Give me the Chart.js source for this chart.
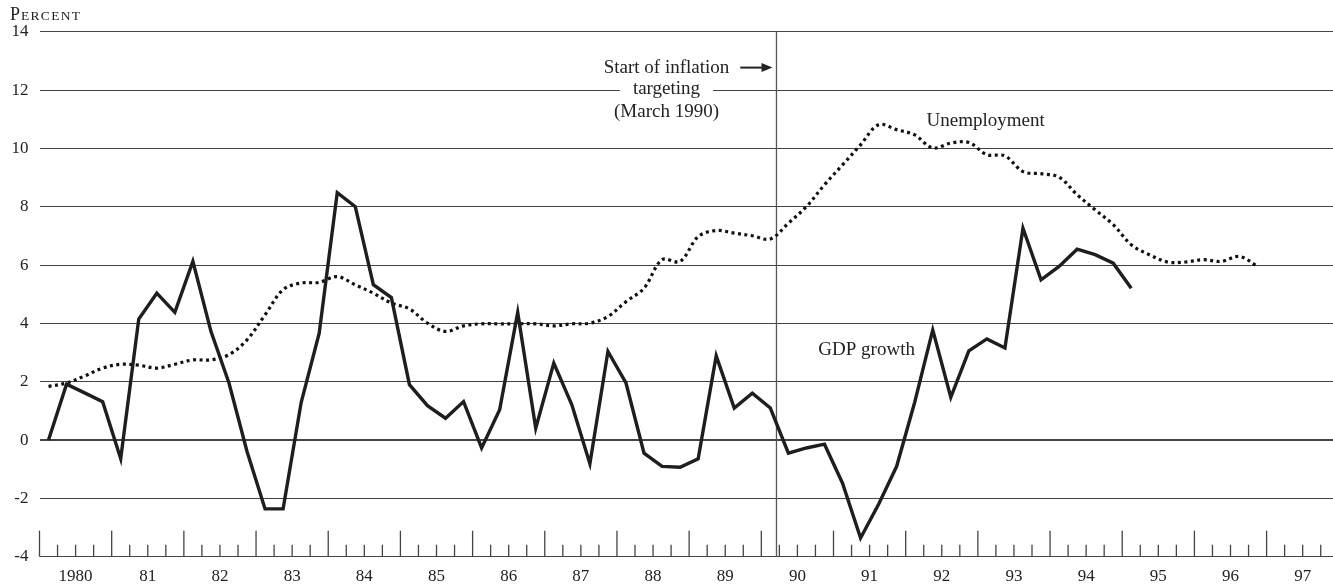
<!DOCTYPE html>
<html lang="en">
<head>
  <meta charset="UTF-8">
  <title>GDP Growth and Unemployment, 1980-97</title>
  <script src="https://cdn.jsdelivr.net/npm/chart.js"></script>
  <style>
    body { margin: 0; background: #fff; }
    #wrap { width: 1333px; height: 585px; }
  </style>
</head>
<body>
  <div id="wrap"><canvas id="growthChart"></canvas></div>

  <script>
    // Quarterly figures in percent, starting with 1980 Q1
    const startYear = 1980;
    const gdpGrowth = [
      0.0, 1.92, 1.62, 1.32,     // 1980
      -0.64, 4.15, 5.04, 4.38,   // 81
      6.13, 3.73, 1.96, -0.39,   // 82
      -2.36, -2.36, 1.29, 3.67,  // 83
      8.49, 8.01, 5.33, 4.89,    // 84
      1.9, 1.18, 0.75, 1.32,     // 85
      -0.27, 1.04, 4.38, 0.41,   // 86
      2.64, 1.21, -0.81, 3.04,   // 87
      1.96, -0.45, -0.9, -0.93,  // 88
      -0.64, 2.89, 1.1, 1.61,    // 89
      1.1, -0.45, -0.27, -0.14,  // 90
      -1.48, -3.36, -2.2, -0.9,  // 91
      1.3, 3.78, 1.47, 3.06,     // 92
      3.47, 3.16, 7.27, 5.5,     // 93
      5.96, 6.55, 6.36, 6.07,    // 94
      5.21                       // 95 Q1
    ];
    const unemployment = [
      1.84, 1.96, 2.2, 2.47,     // 1980
      2.6, 2.57, 2.47, 2.6,      // 81
      2.75, 2.75, 2.93, 3.44,    // 82
      4.3, 5.16, 5.39, 5.41,     // 83
      5.61, 5.33, 5.04, 4.7,     // 84
      4.5, 4.01, 3.73, 3.92,     // 85
      3.99, 3.99, 3.99, 3.99,    // 86
      3.92, 3.99, 4.01, 4.24,    // 87
      4.75, 5.21, 6.19, 6.13,    // 88
      6.98, 7.19, 7.1, 7.01,     // 89
      6.9, 7.44, 8.01, 8.76,     // 90
      9.44, 10.13, 10.82, 10.65, // 91
      10.47, 10.02, 10.19, 10.21,// 92
      9.79, 9.75, 9.21, 9.14,    // 93
      9.02, 8.42, 7.9, 7.39,     // 94
      6.7, 6.36, 6.11, 6.11,     // 95
      6.19, 6.13, 6.3, 5.96      // 96
    ];
    const yearLabels = ['1980', '81', '82', '83', '84', '85', '86', '87', '88',
                        '89', '90', '91', '92', '93', '94', '95', '96', '97'];
    const targetingStart = 1990.21; // March 1990

    const serif = '"Liberation Serif", "DejaVu Serif", serif';
    const ink = '#222';
    const gridColor = '#444';

    // each quarter is plotted at its midpoint
    function quarterPoints(values) {
      return values.map((v, i) => ({ x: startYear + i / 4 + 0.125, y: v }));
    }

    // quarter ticks drawn upward from the bottom axis, longer at year breaks
    const quarterTicks = {
      id: 'quarterTicks',
      beforeDatasetsDraw(chart) {
        const { ctx, chartArea, scales: { x } } = chart;
        ctx.save();
        ctx.strokeStyle = gridColor;
        ctx.lineWidth = 1.3;
        for (let q = 0; q <= yearLabels.length * 4; q++) {
          const px = x.getPixelForValue(startYear + q / 4);
          if (px > chartArea.right) break;
          const len = q % 4 === 0 ? 26 : 12;
          ctx.beginPath();
          ctx.moveTo(px, chartArea.bottom);
          ctx.lineTo(px, chartArea.bottom - len);
          ctx.stroke();
        }
        ctx.restore();
      }
    };

    const annotations = {
      id: 'annotations',
      afterDatasetsDraw(chart) {
        const { ctx, scales: { x, y } } = chart;
        ctx.save();
        ctx.fillStyle = ink;

        // "Percent" in small capitals
        ctx.textAlign = 'left';
        ctx.textBaseline = 'alphabetic';
        ctx.font = '18px ' + serif;
        ctx.fillText('P', 10, 20);
        const pw = ctx.measureText('P').width;
        ctx.font = '13.5px ' + serif;
        ctx.letterSpacing = '1.3px';
        ctx.fillText('ERCENT', 10 + pw + 1, 20);
        ctx.letterSpacing = '0px';

        // inflation targeting note
        ctx.font = '19px ' + serif;
        ctx.textAlign = 'center';
        const lineX = x.getPixelForValue(targetingStart);
        const cx = lineX - 110;
        const y1 = y.getPixelForValue(12.59);
        ctx.fillText('Start of inflation', cx, y1);
        const w1 = ctx.measureText('Start of inflation').width;

        const w2 = ctx.measureText('targeting').width;
        const gy = y.getPixelForValue(12);
        ctx.fillStyle = '#fff';
        ctx.fillRect(cx - w2 / 2 - 13, gy - 3, w2 + 26, 6);
        ctx.fillStyle = ink;
        ctx.fillText('targeting', cx, y.getPixelForValue(11.86));
        ctx.fillText('(March 1990)', cx, y.getPixelForValue(11.1));

        // arrow pointing at the line
        const ay = y1 - 5.5;
        const ax0 = cx + w1 / 2 + 11;
        const ax1 = lineX - 4;
        ctx.strokeStyle = ink;
        ctx.lineWidth = 2;
        ctx.beginPath();
        ctx.moveTo(ax0, ay);
        ctx.lineTo(ax1 - 8, ay);
        ctx.stroke();
        ctx.beginPath();
        ctx.moveTo(ax1, ay);
        ctx.lineTo(ax1 - 11, ay - 4.5);
        ctx.lineTo(ax1 - 11, ay + 4.5);
        ctx.closePath();
        ctx.fill();

        // series labels
        ctx.textAlign = 'left';
        ctx.fillText('Unemployment', x.getPixelForValue(1992.29), y.getPixelForValue(10.76));
        ctx.fillText('GDP growth', x.getPixelForValue(1990.79), y.getPixelForValue(2.93));
        ctx.restore();
      }
    };

    const ctx = document.getElementById('growthChart').getContext('2d');
    new Chart(ctx, {
      type: 'line',
      data: {
        datasets: [
          {
            label: 'GDP growth',
            data: quarterPoints(gdpGrowth),
            borderColor: '#1e1e1e',
            borderWidth: 3.4,
            pointRadius: 0,
            tension: 0,
            order: 1
          },
          {
            label: 'Unemployment',
            data: quarterPoints(unemployment),
            borderColor: '#111',
            borderWidth: 3.2,
            borderDash: [3, 3.5],
            pointRadius: 0,
            tension: 0.35,
            order: 2
          },
          {
            label: 'Start of inflation targeting',
            data: [{ x: targetingStart, y: -4 }, { x: targetingStart, y: 14 }],
            borderColor: '#555',
            borderWidth: 1.3,
            pointRadius: 0,
            order: 3
          }
        ]
      },
      options: {
        responsive: true,
        maintainAspectRatio: false,
        animation: false,
        layout: { padding: { top: 32, left: 0, right: 0, bottom: 0 } },
        plugins: {
          legend: { display: false },
          tooltip: { enabled: false }
        },
        scales: {
          x: {
            type: 'linear',
            min: startYear,
            max: 1997.92,
            afterFit: s => { s.height = 28.3; },
            afterBuildTicks: s => {
              s.ticks = yearLabels.map((l, i) => ({ value: startYear + i + 0.5 }));
            },
            border: { display: false },
            grid: { display: false, drawTicks: false },
            ticks: {
              autoSkip: false,
              maxRotation: 0,
              padding: 10,
              color: ink,
              font: { family: serif, size: 17 },
              callback: v => yearLabels[Math.round(v - startYear - 0.5)]
            }
          },
          y: {
            min: -4,
            max: 14,
            afterFit: s => { s.width = 39.5; },
            border: { display: false },
            grid: {
              drawTicks: false,
              color: gridColor,
              lineWidth: c => (c.tick && c.tick.value === 0 ? 2 : 1.1)
            },
            ticks: {
              stepSize: 2,
              padding: 11,
              color: ink,
              font: { family: serif, size: 17 }
            }
          }
        }
      },
      plugins: [quarterTicks, annotations]
    });
  </script>
</body>
</html>
